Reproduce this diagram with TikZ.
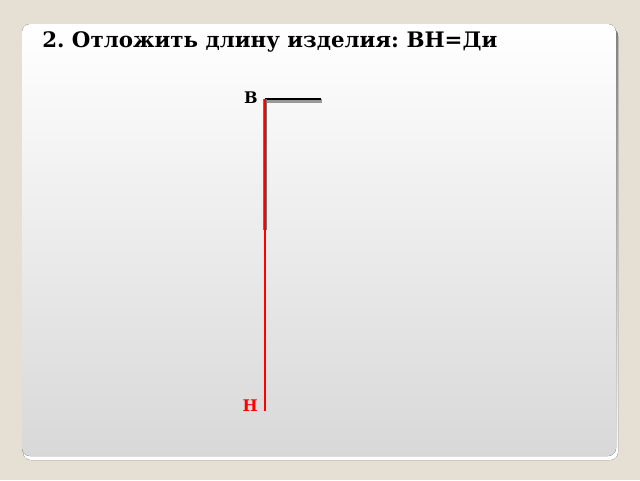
\documentclass[tikz,border=0pt]{standalone}
\usepackage{fontspec}
\setmainfont{DejaVu Serif}
\definecolor{beige}{HTML}{E5DFD4}
\definecolor{panelbot}{HTML}{D8D8D8}
\definecolor{shade}{HTML}{A4A39B}
\begin{document}
\begin{tikzpicture}[x=0.75pt,y=-0.75pt,lbl/.style={font=\bfseries\fontsize{12}{14}\selectfont,inner sep=0pt}]
                \fill[beige](0,0)rectangle(640,480);
                \useasboundingbox(0,0)rectangle(640,480);
                \fill[shade,rounded corners=6pt](23,28)rectangle(618,460);
                \fill[rounded corners=6pt,top color=white,bottom color=panelbot](22,24)rectangle(616,456);
                \node[anchor=base west,inner sep=0pt,font=\bfseries\fontsize{16}{19}\selectfont\frenchspacing](title)at(42,47){2. Отложить длину изделия: ВН=Ди};
                \coordinate(B)at(265,99);
                \coordinate(E)at(321,99);
                \coordinate(M)at(265,230);
                \coordinate(H)at(265,411);
                \draw[line width=2.4pt,gray!80](266,101)--(322,101);
                \draw[line width=2.2pt,black](B)--(E);
                \draw[line width=3.4pt,black!55](B)--(M);
                \draw[line width=1.6pt,red](B)--(H);
                \node[lbl,anchor=base east](b)at(258,103){В};
                \node[lbl,anchor=base east,red](h)at(258,411){Н};
            \end{tikzpicture}
\end{document}
